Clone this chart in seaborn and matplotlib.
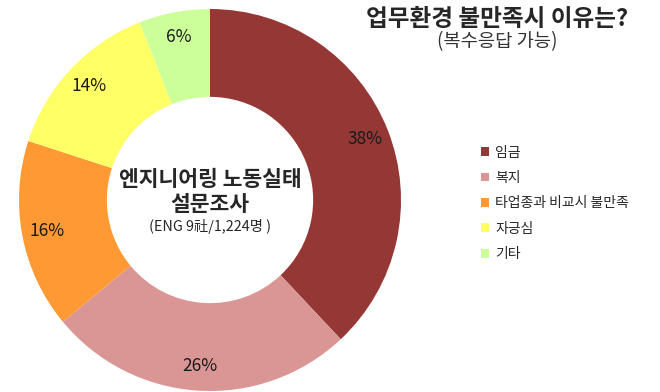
import matplotlib
matplotlib.use('Agg')
import matplotlib.pyplot as plt
import seaborn as sns
from matplotlib.patches import Patch

# Data
labels = ['임금', '복지', '타업종과 비교시 불만족', '자긍심', '기타']
values = [38, 26, 16, 14, 6]
colors = ['#953735', '#D99694', '#FF9933', '#FFFF66', '#CCFF99']

sns.set_theme(style='white')
plt.rcParams['font.family'] = ['Noto Sans CJK KR', 'DejaVu Sans']

fig = plt.figure(figsize=(6.6, 3.92), dpi=100)
fig.patch.set_facecolor('white')

# Donut axes: center ~ (210, 200) px, radius ~191 px
ax = fig.add_axes([19 / 660, 1 / 392, 382 / 660, 382 / 392])
wedges, texts, autotexts = ax.pie(
    values, colors=colors, startangle=90, counterclock=False,
    autopct='%d%%', pctdistance=0.87, radius=1.0,
    wedgeprops=dict(width=0.46, edgecolor='none', linewidth=0),
    textprops=dict(fontsize=12.5, color='#1a1a1a'))
ax.set_xlim(-1, 1)
ax.set_ylim(-1, 1)
ax.set_aspect('equal')

# Center text
ax.text(0, 0.105, '엔지니어링 노동실태', ha='center', va='center',
        fontsize=15.5, fontweight='bold')
ax.text(0, -0.025, '설문조사', ha='center', va='center',
        fontsize=15.5, fontweight='bold')
ax.text(0, -0.14, '(ENG 9社/1,224명 )', ha='center', va='center', fontsize=10.3)

# Title
fig.text(497 / 660, 1 - 19 / 392, '업무환경 불만족시 이유는?', ha='center', va='center',
         fontsize=17, fontweight='bold')
fig.text(497 / 660, 1 - 42 / 392, '(복수응답 가능)', ha='center', va='center',
         fontsize=13.5, color='#333333')

handles = [Patch(facecolor=c, edgecolor='none') for c in colors]
fig.legend(handles, labels, loc='upper left', bbox_to_anchor=(468 / 660, 1 - 133 / 392),
           frameon=False, fontsize=10, handlelength=0.6, handleheight=0.6,
           handletextpad=0.45, labelspacing=0.82)

fig.savefig('out.png', dpi=100)
